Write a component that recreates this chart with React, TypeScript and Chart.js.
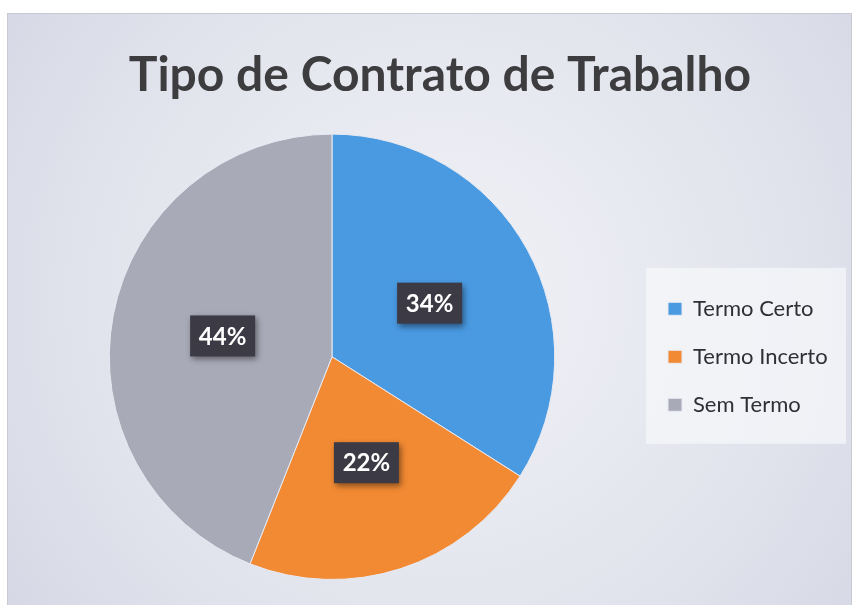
import React, { useEffect, useRef } from "react";
import { Chart, registerables } from "chart.js";

Chart.register(...registerables);

const TITLE = "Tipo de Contrato de Trabalho";
const categories = ["Termo Certo", "Termo Incerto", "Sem Termo"];
const values = [34, 22, 44];
const colors = ["#4a9ae2", "#f28a33", "#a9aab8"];

const backgroundPlugin = {
  id: "bgPanel",
  beforeDraw(chart: any) {
    const { ctx, width, height } = chart;
    ctx.save();
    ctx.fillStyle = "#ffffff";
    ctx.fillRect(0, 0, width, height);
    const x0 = 7, y0 = 13, x1 = width - 6, y1 = height;
    const g = ctx.createRadialGradient(440, 300, 60, 440, 300, 560);
    g.addColorStop(0, "#eff0f5");
    g.addColorStop(0.55, "#e2e4ed");
    g.addColorStop(1, "#d4d6e4");
    ctx.fillStyle = g;
    ctx.fillRect(x0, y0, x1 - x0, y1 - y0);
    ctx.strokeStyle = "#c8c9d2";
    ctx.lineWidth = 1;
    ctx.strokeRect(x0 + 0.5, y0 + 0.5, x1 - x0 - 1, y1 - y0);
    // legend panel
    const lg = chart.legend;
    if (lg && lg.legendHitBoxes && lg.legendHitBoxes.length) {
      const hb = lg.legendHitBoxes;
      const top = hb[0].top - 30;
      const last = hb[hb.length - 1];
      const bottom = last.top + last.height + 28;
      const left = hb[0].left - 22;
      const right = width - 12;
      ctx.fillStyle = "rgba(246,247,250,0.75)";
      ctx.fillRect(left, top, right - left, bottom - top);
    }
    ctx.restore();
  },
};

const legendFitPlugin = {
  id: "legendFit",
  beforeInit(chart: any) {
    const lg = chart.legend;
    if (!lg) return;
    const orig = lg.fit;
    lg.fit = function fit() {
      orig.call(lg);
      this.width = 216;
    };
  },
};

const labelPlugin = {
  id: "pctLabels",
  afterDatasetsDraw(chart: any) {
    const { ctx } = chart;
    const meta = chart.getDatasetMeta(0);
    const data = chart.data.datasets[0].data as number[];
    const total = data.reduce((a, b) => a + b, 0);
    ctx.save();
    ctx.font = "bold 24px Lato, 'Open Sans', sans-serif";
    ctx.textAlign = "center";
    ctx.textBaseline = "middle";
    meta.data.forEach((arc: any, i: number) => {
      const p = arc.getCenterPoint();
      const txt = Math.round((data[i] / total) * 100) + "%";
      const w = 65, h = 41;
      ctx.save();
      ctx.shadowColor = "rgba(0,0,0,0.45)";
      ctx.shadowBlur = 6;
      ctx.shadowOffsetX = 2;
      ctx.shadowOffsetY = 3;
      ctx.fillStyle = "#3c3b45";
      ctx.fillRect(p.x - w / 2, p.y - h / 2, w, h);
      ctx.restore();
      ctx.fillStyle = "#ffffff";
      ctx.fillText(txt, p.x, p.y + 1);
    });
    ctx.restore();
  },
};

export default function App() {
  const ref = useRef<HTMLCanvasElement | null>(null);
  useEffect(() => {
    if (!ref.current) return;
    const chart = new Chart(ref.current, {
      type: "pie",
      data: {
        labels: categories,
        datasets: [
          {
            data: values,
            backgroundColor: colors,
            borderColor: "#e8eaf2",
            borderWidth: 1,
          },
        ],
      },
      options: {
        animation: false,
        responsive: false,
        maintainAspectRatio: false,
        layout: { padding: { left: 22, right: 0, top: 14, bottom: 25 } },
        plugins: {
          title: {
            display: true,
            text: TITLE,
            color: "#3d3d40",
            font: { family: "Lato, 'Open Sans', sans-serif", size: 48, weight: "bold" },
            padding: { top: 33, bottom: 29 },
          },
          legend: {
            display: true,
            position: "right",
            fullSize: false,
            labels: {
              color: "#2f2f35",
              font: { family: "Lato, 'Open Sans', sans-serif", size: 22 },
              boxWidth: 14,
              boxHeight: 13,
              padding: 26,
            },
          },
          tooltip: { enabled: false },
        },
      },
      plugins: [backgroundPlugin, legendFitPlugin, labelPlugin],
    });
    return () => chart.destroy();
  }, []);
  return (
    <div style={{ position: "fixed", left: 0, top: 0, width: 858, height: 605 }}>
      <canvas ref={ref} width={858} height={605} style={{ display: "block" }} />
    </div>
  );
}
